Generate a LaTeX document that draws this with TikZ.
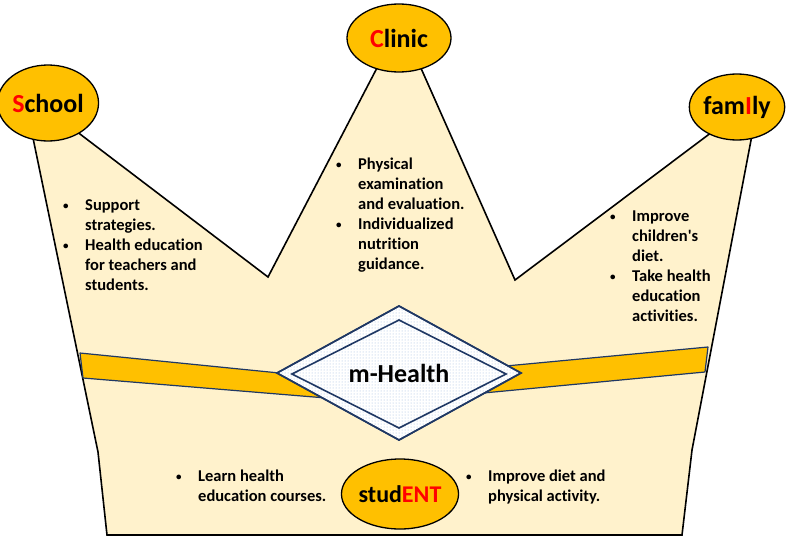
\documentclass[tikz,border=0pt]{standalone}
\usepackage{fontspec}
\setmainfont[Ligatures=NoCommon]{Carlito}
\usetikzlibrary{shapes.geometric,patterns}
\definecolor{crownfill}{HTML}{FFF2CC}
\definecolor{gold}{HTML}{FFC000}
\definecolor{navy}{HTML}{1F3864}
\definecolor{dotblue}{HTML}{9DB8E0}
\newcommand{\itm}{\makebox[22pt][l]{\raisebox{1pt}{\fontsize{11}{11}\selectfont\textbullet}}}
\newcommand{\hl}[1]{{\color{red}#1}}

\tikzset{
  gem/.style={ellipse, draw=black, line width=1.3pt, fill=gold, inner sep=0pt,
              font=\bfseries\fontsize{26}{30}\selectfont},
  notes/.style={anchor=base west, inner sep=0pt,
                font=\bfseries\fontsize{16.5}{20}\selectfont},
  band/.style={fill=gold, draw=navy, line width=1.2pt, line join=round},
  gemstone/.style={draw=navy, line width=1.6pt, line join=miter}
}

\begin{document}
\begin{tikzpicture}[x=1pt,y=-1pt]
  \useasboundingbox (0,0) rectangle (786,538);

  \draw[line width=1.6pt, fill=crownfill, line join=miter]
    (33,138) -- (76,131) -- (268,277) -- (378,66) -- (420,66) -- (515,280)
    -- (712,132) -- (752,135) -- (692,450) -- (682,535) -- (107,535)
    -- (98,452) -- cycle;

  \draw[band] (80,353) -- (399,385) -- (399,404) -- (83,378) -- cycle;
  \draw[band] (708,347) -- (399,376) -- (399,401) -- (705,372) -- cycle;

  \coordinate (hub) at (399,373);
  \filldraw[gemstone, fill=white] (399,306) -- (521,373) -- (399,440) -- (277,373) -- cycle;
  \fill[pattern=dots, pattern color=dotblue] (399,306) -- (521,373) -- (399,440) -- (277,373) -- cycle;
  \draw[gemstone] (399,306) -- (521,373) -- (399,440) -- (277,373) -- cycle;
  \draw[gemstone] (399,320) -- (506,374) -- (399,428) -- (292,374) -- cycle;
  \node[font=\bfseries\fontsize{26}{30}\selectfont] (mhealth) at (hub) {m-Health};

  \node[gem, minimum width=94pt, minimum height=76pt] (school) at (48,103) {\hl{S}chool};
  \node[gem, minimum width=104pt, minimum height=68pt] (clinic) at (399,38) {\hl{C}linic};
  \node[gem, minimum width=90pt, minimum height=66pt] (family) at (737,107) {fam\hl{I}ly};
  \node[gem, minimum width=94pt, minimum height=70pt,
        font=\bfseries\fontsize{24}{28}\selectfont] (student) at (400,494) {stud\hl{ENT}};

  \node[notes] (schoolnotes) at (63,210) {\begin{tabular}[t]{@{}l@{}l@{}}
    \itm & Support\\ & strategies.\\
    \itm & Health education\\ & for teachers and\\ & students.
  \end{tabular}};
  \node[notes] (clinicnotes) at (336,169) {\begin{tabular}[t]{@{}l@{}l@{}}
    \itm & Physical\\ & examination\\ & and evaluation.\\
    \itm & Individualized\\ & nutrition\\ & guidance.
  \end{tabular}};
  \node[notes] (familynotes) at (610,221) {\begin{tabular}[t]{@{}l@{}l@{}}
    \itm & Improve\\ & children\textquotesingle s\\ & diet.\\
    \itm & Take health\\ & education\\ & activities.
  \end{tabular}};
  \node[notes] (learnnotes) at (176,481) {\begin{tabular}[t]{@{}l@{}l@{}}
    \itm & Learn health\\ & education courses.
  \end{tabular}};
  \node[notes] (dietnotes) at (466,481) {\begin{tabular}[t]{@{}l@{}l@{}}
    \itm & Improve diet and\\ & physical activity.
  \end{tabular}};
\end{tikzpicture}
\end{document}
